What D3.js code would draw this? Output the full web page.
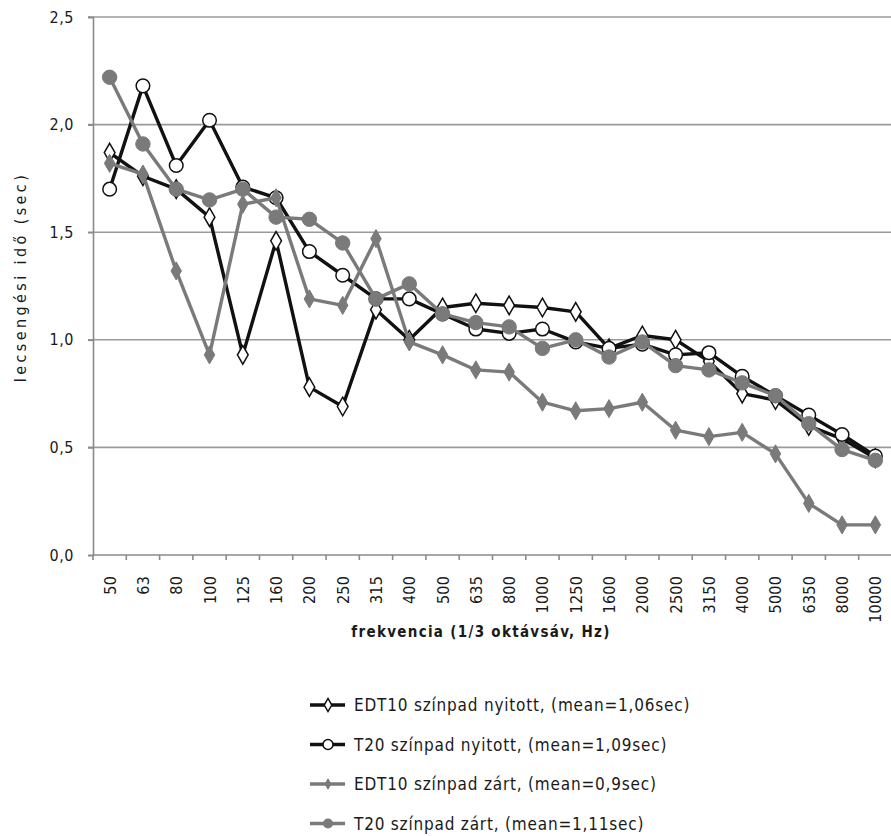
<!DOCTYPE html>
<html>
<head>
<meta charset="utf-8">
<script src="https://cdn.jsdelivr.net/npm/d3@7"></script>
<style>
  body { margin: 0; background: #fff; }
  svg { display: block; }
  text { font-family: "DejaVu Sans Condensed", "DejaVu Sans", sans-serif; fill: #1a1a1a; }
</style>
</head>
<body>
<div id="chart"></div>
<script>
// 1/3 octave band centre frequencies
const bands = ["50","63","80","100","125","160","200","250","315","400","500","635","800",
  "1000","1250","1600","2000","2500","3150","4000","5000","6350","8000","10000"];

const edtOpen   = [1.87,1.76,1.70,1.57,0.93,1.46,0.78,0.69,1.14,1.00,1.15,1.17,1.16,1.15,1.13,0.96,1.02,1.00,0.90,0.75,0.72,0.60,0.54,0.45];
const t20Open   = [1.70,2.18,1.81,2.02,1.71,1.66,1.41,1.30,1.19,1.19,1.12,1.05,1.03,1.05,0.99,0.96,0.98,0.93,0.94,0.83,0.74,0.65,0.56,0.46];
const edtClosed = [1.82,1.77,1.32,0.93,1.63,1.66,1.19,1.16,1.47,0.99,0.93,0.86,0.85,0.71,0.67,0.68,0.71,0.58,0.55,0.57,0.47,0.24,0.14,0.14];
const t20Closed = [2.22,1.91,1.70,1.65,1.70,1.57,1.56,1.45,1.19,1.26,1.12,1.08,1.06,0.96,1.00,0.92,0.99,0.88,0.86,0.80,0.74,0.61,0.49,0.44];

const yTicks = [0, 0.5, 1.0, 1.5, 2.0, 2.5];

const series = [
  { name: "EDT10 színpad nyitott, (mean=1,06sec)", values: edtOpen,   color: "#111", marker: "diamondOpen" },
  { name: "T20 színpad nyitott, (mean=1,09sec)",   values: t20Open,   color: "#111", marker: "circleOpen" },
  { name: "EDT10 színpad zárt, (mean=0,9sec)",     values: edtClosed, color: "#7a7a7a", marker: "diamondFill" },
  { name: "T20 színpad zárt, (mean=1,11sec)",      values: t20Closed, color: "#7a7a7a", marker: "circleFill" }
];

const W = 891, H = 836;
const plot = { left: 93, right: 892, top: 17, bottom: 555 };

const svg = d3.select("#chart").append("svg")
  .attr("width", W).attr("height", H);

const x = d3.scaleBand().domain(bands).range([plot.left, plot.right]);
const y = d3.scaleLinear().domain([0, 2.5]).range([plot.bottom, plot.top]);

// grid lines
svg.append("g")
  .selectAll("line")
  .data(yTicks.filter(d => d > 0))
  .join("line")
  .attr("x1", plot.left - 5).attr("x2", W)
  .attr("y1", d => y(d)).attr("y2", d => y(d))
  .attr("stroke", "#9a9a9a").attr("stroke-width", 1.6);

// y axis
const yAxis = svg.append("g")
  .attr("transform", `translate(${plot.left},0)`)
  .call(d3.axisLeft(y).tickValues(yTicks).tickSize(5).tickPadding(14)
    .tickFormat(d => d3.format(".1f")(d).replace(".", ",")));
yAxis.select(".domain").attr("stroke", "#8a8a8a").attr("stroke-width", 1.6);
yAxis.selectAll(".tick line").attr("stroke", "#8a8a8a").attr("stroke-width", 1.6);
yAxis.selectAll("text").style("font-size", "16px").style("letter-spacing", "0.5px").attr("fill", "#1a1a1a");

// x axis, ticks at band boundaries
const xAxis = svg.append("g")
  .attr("transform", `translate(0,${plot.bottom})`);
xAxis.append("line")
  .attr("x1", plot.left).attr("x2", W)
  .attr("stroke", "#8a8a8a").attr("stroke-width", 1.6);
xAxis.selectAll("line.tk")
  .data(bands.concat(["end"]))
  .join("line")
  .attr("class", "tk")
  .attr("x1", (d, i) => plot.left + i * x.bandwidth())
  .attr("x2", (d, i) => plot.left + i * x.bandwidth())
  .attr("y1", 0).attr("y2", 5)
  .attr("stroke", "#8a8a8a").attr("stroke-width", 1.6);
xAxis.selectAll("text")
  .data(bands)
  .join("text")
  .attr("transform", d => `translate(${x(d) + x.bandwidth() / 2 + 6},21) rotate(-90)`)
  .attr("text-anchor", "end")
  .style("font-size", "16px")
  .style("letter-spacing", "0.2px")
  .text(d => d);

// axis titles
svg.append("text")
  .attr("transform", "translate(26,277) rotate(-90)")
  .attr("text-anchor", "middle")
  .style("font-size", "16px")
  .style("letter-spacing", "3.4px")
  .text("lecsengési idő (sec)");

svg.append("text")
  .attr("x", 481).attr("y", 637)
  .attr("text-anchor", "middle")
  .style("font-size", "15px")
  .style("font-weight", "bold")
  .style("letter-spacing", "1.3px")
  .text("frekvencia (1/3 oktávsáv, Hz)");

// markers
function drawMarker(sel, type, color) {
  if (type === "diamondOpen") {
    sel.append("path")
      .attr("d", d3.symbol(d3.symbolDiamond, 100)())
      .attr("fill", "#fff").attr("stroke", color).attr("stroke-width", 1.5);
  } else if (type === "circleOpen") {
    sel.append("circle").attr("r", 6.8)
      .attr("fill", "#fff").attr("stroke", color).attr("stroke-width", 1.5);
  } else if (type === "diamondFill") {
    sel.append("path")
      .attr("d", d3.symbol(d3.symbolDiamond, 95)())
      .attr("fill", color).attr("stroke", color).attr("stroke-width", 1);
  } else {
    sel.append("circle").attr("r", 7.2)
      .attr("fill", color).attr("stroke", color).attr("stroke-width", 1);
  }
}

const line = d3.line()
  .x((d, i) => x(bands[i]) + x.bandwidth() / 2)
  .y(d => y(d));

series.forEach(s => {
  const g = svg.append("g");
  g.append("path")
    .datum(s.values)
    .attr("fill", "none")
    .attr("stroke", s.color)
    .attr("stroke-width", 3.4)
    .attr("stroke-linejoin", "round")
    .attr("d", line);
  g.selectAll("g.m")
    .data(s.values)
    .join("g")
    .attr("class", "m")
    .attr("transform", (d, i) => `translate(${x(bands[i]) + x.bandwidth() / 2},${y(d)})`)
    .each(function() { drawMarker(d3.select(this), s.marker, s.color); });
});

// legend
const legend = svg.append("g").attr("transform", "translate(310,705)");
series.forEach((s, i) => {
  const row = legend.append("g").attr("transform", `translate(0,${i * 39.5})`);
  row.append("line")
    .attr("x1", 0).attr("x2", 35)
    .attr("stroke", s.color).attr("stroke-width", 3.4);
  const m = row.append("g").attr("transform", "translate(18,0)");
  if (s.marker === "diamondOpen") {
    m.append("path").attr("d", d3.symbol(d3.symbolDiamond, 50)())
      .attr("fill", "#fff").attr("stroke", s.color).attr("stroke-width", 1.5);
  } else if (s.marker === "circleOpen") {
    m.append("circle").attr("r", 5).attr("fill", "#fff").attr("stroke", s.color).attr("stroke-width", 1.5);
  } else if (s.marker === "diamondFill") {
    m.append("path").attr("d", d3.symbol(d3.symbolDiamond, 40)()).attr("fill", s.color);
  } else {
    m.append("circle").attr("r", 5).attr("fill", s.color);
  }
  row.append("text")
    .attr("x", 44).attr("y", 6)
    .style("font-size", "17px")
    .style("letter-spacing", "0.8px")
    .text(s.name);
});
</script>
</body>
</html>
